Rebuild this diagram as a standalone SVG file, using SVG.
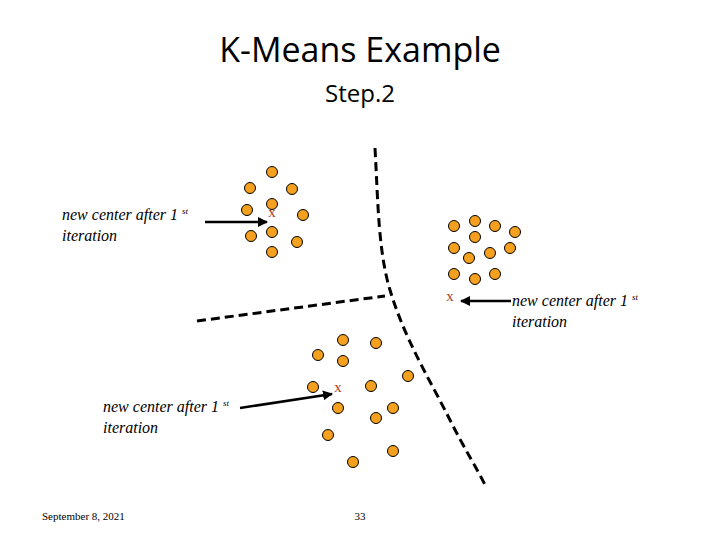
<svg xmlns="http://www.w3.org/2000/svg" width="720" height="540" viewBox="0 0 720 540">
<style>
.t{font-family:"Open Sans","Noto Sans",sans-serif;fill:#000}
.lbl{font-family:"Liberation Serif",serif;font-style:italic;font-size:16px;fill:#000}
.sup{font-size:9px}
.d{fill:#F5A01E;stroke:#000;stroke-width:1}
.x{font-family:"Liberation Serif",serif;font-size:15px;fill:#B04020}
.dash{fill:none;stroke:#000;stroke-width:3;stroke-dasharray:9,5}
.arr{stroke:#000;stroke-width:2.5;fill:none;marker-end:url(#ah)}
</style>
<defs><marker id="ah" viewBox="0 0 10 10" refX="9" refY="5" markerWidth="4" markerHeight="4" orient="auto"><path d="M0,0L10,5L0,10z" fill="#000"/></marker></defs>
<rect width="720" height="540" fill="#fff"/>
<text class="t" x="360" y="62" font-size="34" text-anchor="middle">K-Means Example</text>
<text class="t" x="360" y="102" font-size="24" text-anchor="middle">Step.2</text>
<g id="connectors">
<path class="dash" d="M375,148 C378,200 378,250 390,290 C405,340 430,380 450,420 C465,450 478,470 486,487"/>
<path class="dash" d="M197,321 L385,296"/>
<line class="arr" x1="205" y1="222" x2="267" y2="222"/>
<line class="arr" x1="511" y1="301" x2="461" y2="301"/>
<line class="arr" x1="240" y1="408" x2="332" y2="394"/>
</g>
<g id="cluster1">
<circle class="d" cx="272" cy="172" r="5.5"/><circle class="d" cx="250" cy="188" r="5.5"/><circle class="d" cx="292" cy="189" r="5.5"/>
<circle class="d" cx="247" cy="210" r="5.5"/><circle class="d" cx="272" cy="204" r="5.5"/><circle class="d" cx="303" cy="215" r="5.5"/>
<circle class="d" cx="272" cy="232" r="5.5"/><circle class="d" cx="251" cy="236" r="5.5"/><circle class="d" cx="297" cy="242" r="5.5"/>
<circle class="d" cx="272" cy="252" r="5.5"/>
<text class="x" x="272" y="217" text-anchor="middle">x</text>
</g>
<g id="cluster2">
<circle class="d" cx="454" cy="226" r="5.5"/><circle class="d" cx="475" cy="221" r="5.5"/><circle class="d" cx="495" cy="226" r="5.5"/><circle class="d" cx="515" cy="232" r="5.5"/>
<circle class="d" cx="475" cy="237" r="5.5"/><circle class="d" cx="454" cy="248" r="5.5"/><circle class="d" cx="469" cy="258" r="5.5"/><circle class="d" cx="490" cy="253" r="5.5"/>
<circle class="d" cx="510" cy="248" r="5.5"/><circle class="d" cx="454" cy="274" r="5.5"/><circle class="d" cx="475" cy="279" r="5.5"/><circle class="d" cx="495" cy="274" r="5.5"/>
<text class="x" x="450" y="301" text-anchor="middle">x</text>
</g>
<g id="cluster3">
<circle class="d" cx="343" cy="340" r="5.5"/><circle class="d" cx="376" cy="343" r="5.5"/><circle class="d" cx="318" cy="355" r="5.5"/><circle class="d" cx="343" cy="361" r="5.5"/>
<circle class="d" cx="313" cy="387" r="5.5"/><circle class="d" cx="371" cy="386" r="5.5"/><circle class="d" cx="408" cy="376" r="5.5"/><circle class="d" cx="338" cy="408" r="5.5"/>
<circle class="d" cx="376" cy="418" r="5.5"/><circle class="d" cx="393" cy="408" r="5.5"/><circle class="d" cx="328" cy="435" r="5.5"/><circle class="d" cx="393" cy="451" r="5.5"/>
<circle class="d" cx="353" cy="462" r="5.5"/>
<text class="x" x="338" y="392" text-anchor="middle">x</text>
</g>
<g id="label1"><text class="lbl" x="62" y="220">new center after 1 <tspan class="sup" dy="-6">st</tspan></text><text class="lbl" x="62" y="241">iteration</text></g>
<g id="label2"><text class="lbl" x="512" y="306">new center after 1 <tspan class="sup" dy="-6">st</tspan></text><text class="lbl" x="512" y="327">iteration</text></g>
<g id="label3"><text class="lbl" x="103" y="412">new center after 1 <tspan class="sup" dy="-6">st</tspan></text><text class="lbl" x="103" y="433">iteration</text></g>
<text x="42" y="520" font-family="Liberation Serif,serif" font-size="11">September 8, 2021</text>
<text x="360" y="520" font-family="Liberation Serif,serif" font-size="11" text-anchor="middle">33</text>
</svg>
